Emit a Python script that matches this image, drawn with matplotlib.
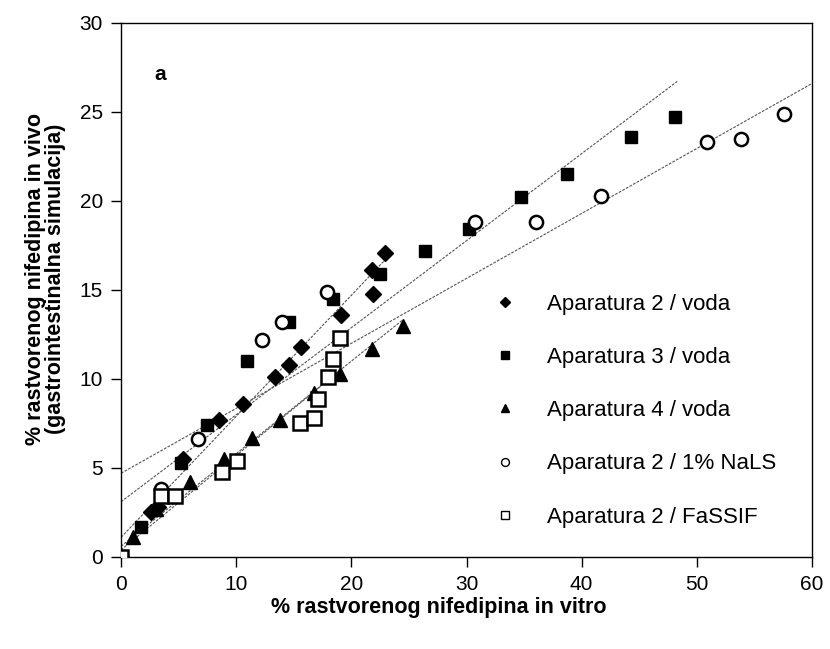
import matplotlib.pyplot as plt
import numpy as np

plt.rcParams['font.family'] = ['Liberation Sans', 'DejaVu Sans']

# Aparatura 2 / voda
dia_x = [0, 2.6, 3.2, 3.8, 5.4, 8.5, 10.6, 13.4, 14.6, 15.6, 19.1, 21.9, 21.8, 22.9]
dia_y = [0, 2.5, 2.8, 3.6, 5.5, 7.7, 8.6, 10.1, 10.8, 11.8, 13.6, 14.8, 16.1, 17.1]
# Aparatura 3 / voda
sq_x = [0, 1.7, 3.5, 5.2, 7.5, 10.9, 14.6, 18.4, 22.5, 26.4, 30.2, 34.7, 38.7, 44.3, 48.1]
sq_y = [0, 1.7, 3.5, 5.3, 7.4, 11.0, 13.2, 14.5, 15.9, 17.2, 18.4, 20.2, 21.5, 23.6, 24.7]
# Aparatura 4 / voda
tri_x = [0, 1.0, 3.0, 6.0, 8.9, 11.4, 13.8, 16.8, 19.0, 21.8, 24.5]
tri_y = [0, 1.1, 2.7, 4.2, 5.5, 6.7, 7.7, 9.2, 10.3, 11.7, 13.0]
# Aparatura 2 / 1% NaLS
circ_x = [0, 3.5, 6.7, 12.2, 14.0, 17.9, 30.7, 36.0, 41.7, 50.9, 53.8, 57.6]
circ_y = [0, 3.8, 6.6, 12.2, 13.2, 14.9, 18.8, 18.8, 20.3, 23.3, 23.5, 24.9]
# Aparatura 2 / FaSSIF
osq_x = [0, 3.5, 4.7, 8.8, 10.1, 15.5, 16.8, 17.1, 18.0, 18.4, 19.0]
osq_y = [0, 3.4, 3.4, 4.8, 5.4, 7.5, 7.8, 8.9, 10.1, 11.1, 12.3]

# regression lines: intercept, slope, last x
fit_b = [1.1, 3.1, 0.6, 4.7, 0.4]
fit_k = [0.68, 0.489, 0.52, 0.365, 0.53]
fit_end = [22.8, 48.3, 24.5, 60, 19.0]

labels = ['Aparatura 2 / voda', 'Aparatura 3 / voda', 'Aparatura 4 / voda',
          'Aparatura 2 / 1% NaLS', 'Aparatura 2 / FaSSIF']

fig = plt.figure(figsize=(8.3, 6.49), dpi=100)
ax = fig.add_axes([0.1458, 0.1418, 0.8325, 0.8228])

for b, k, xe in zip(fit_b, fit_k, fit_end):
    xs = np.array([0, xe])
    ax.plot(xs, b + k * xs, color='#555555', lw=0.8, dashes=(2.5, 1.2), zorder=1)

ax.plot(dia_x, dia_y, 'D', ms=8, color='black', ls='none', label=labels[0], zorder=3)
ax.plot(sq_x, sq_y, 's', ms=8.5, color='black', ls='none', label=labels[1], zorder=3)
ax.plot(tri_x, tri_y, '^', ms=9.5, color='black', ls='none', label=labels[2], zorder=3)
ax.plot(circ_x, circ_y, 'o', ms=9.5, mfc='white', mec='black', mew=1.8, ls='none',
        label=labels[3], zorder=3)
ax.plot(osq_x, osq_y, 's', ms=9.5, mfc='white', mec='black', mew=1.8, ls='none',
        label=labels[4], zorder=3)

ax.set_xlim(0, 60)
ax.set_ylim(0, 30)
ax.set_xticks(np.arange(0, 61, 10))
ax.set_yticks(np.arange(0, 31, 5))
ax.tick_params(direction='out', length=7, width=1, pad=6, labelsize=15,
               top=False, right=False)
for s in ax.spines.values():
    s.set_linewidth(1)

ax.set_xlabel('% rastvorenog nifedipina in vitro', fontsize=15.5, fontweight='bold')
ax.set_ylabel('% rastvorenog nifedipina in vivo\n(gastrointestinalna simulacija)',
              fontsize=15.5, fontweight='bold', linespacing=0.95)
ax.xaxis.set_label_coords(0.46, -0.075)
ax.yaxis.set_label_coords(-0.08, 0.52)

ax.text(3.4, 27.1, 'a', fontsize=15, fontweight='bold', ha='center', va='center')

leg = ax.legend(loc='center left', bbox_to_anchor=(0.511, 0.274), frameon=False,
                fontsize=16, labelspacing=1.45, handletextpad=0.9, markerscale=0.6,
                borderaxespad=0)
for h in leg.legend_handles:
    h.set_markeredgewidth(1.0)

fig.savefig('out.png', dpi=100)
